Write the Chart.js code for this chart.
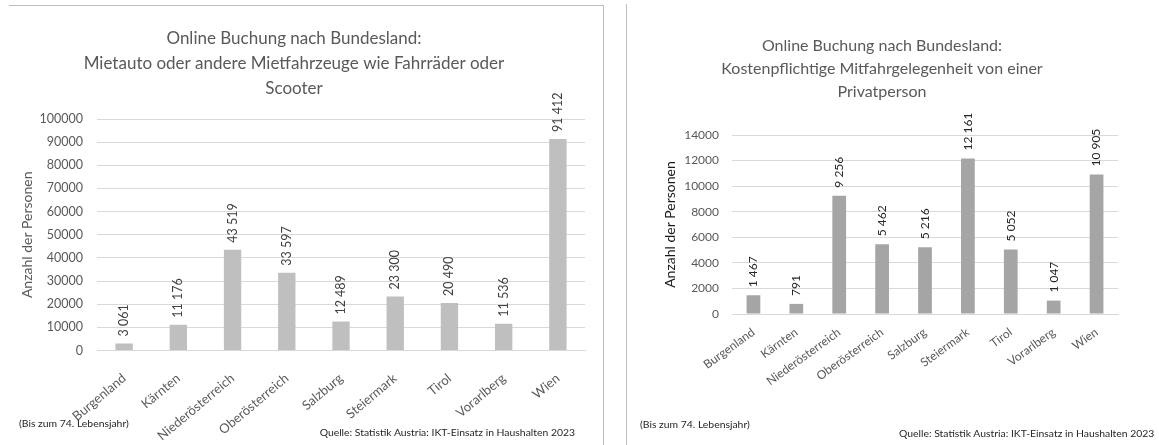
<!DOCTYPE html>
<html lang="de">
<head>
<meta charset="utf-8">
<title>Online Buchung nach Bundesland</title>
<script src="https://cdn.jsdelivr.net/npm/chart.js@4.4.1/dist/chart.umd.min.js"></script>
<style>
  html, body { margin: 0; padding: 0; background: #fff; }
  body { position: relative; width: 1159px; height: 445px; overflow: hidden; font-family: Lato, "Noto Sans", sans-serif; }
  canvas { position: absolute; top: 0; }
  .rule { position: absolute; background: #bdbdbd; }
  .note { position: absolute; font-size: 10.4px; line-height: 12px; color: #262626; white-space: nowrap; }
</style>
</head>
<body>
<div class="rule" style="left:9px; top:5px; width:594px; height:1px;"></div>
<div class="rule" style="left:603px; top:5px; width:1px; height:440px;"></div>
<div class="rule" style="left:626px; top:4px; width:1px; height:441px;"></div>

<canvas id="chartMiet" width="590" height="445" style="left:0px;"></canvas>
<canvas id="chartMitfahrt" width="532" height="445" style="left:626px;"></canvas>

<div class="note" style="left:19px; top:417px;">(Bis zum 74. Lebensjahr)</div>
<div class="note" style="left:300px; top:426px; width:275px; text-align:right;">Quelle: Statistik Austria: IKT-Einsatz in Haushalten 2023</div>
<div class="note" style="left:640px; top:418px;">(Bis zum 74. Lebensjahr)</div>
<div class="note" style="left:899px; top:427px;">Quelle: Statistik Austria: IKT-Einsatz in Haushalten 2023</div>

<script>
// Bundesländer in Reihenfolge der Achse
const bundeslaender = ['Burgenland', 'Kärnten', 'Niederösterreich', 'Oberösterreich', 'Salzburg', 'Steiermark', 'Tirol', 'Vorarlberg', 'Wien'];

// Personen mit Online-Buchung: Mietauto oder andere Mietfahrzeuge
const mietfahrzeuge = [3061, 11176, 43519, 33597, 12489, 23300, 20490, 11536, 91412];

// Personen mit Online-Buchung: kostenpflichtige Mitfahrgelegenheit
const mitfahrgelegenheit = [1467, 791, 9256, 5462, 5216, 12161, 5052, 1047, 10905];

// Achsenbereiche
const mietAchse = { max: 100000, step: 10000 };
const mitfahrtAchse = { max: 14000, step: 2000 };

const titelMiet = ['Online Buchung nach Bundesland:', 'Mietauto oder andere Mietfahrzeuge wie Fahrräder oder', 'Scooter'];
const titelMitfahrt = ['Online Buchung nach Bundesland:', 'Kostenpflichtige Mitfahrgelegenheit von einer', 'Privatperson'];
const achsenTitel = 'Anzahl der Personen';

const FONT = 'Lato, "Noto Sans", sans-serif';
Chart.defaults.font.family = FONT;

// Zahlen mit Leerzeichen als Tausendertrennzeichen
function tausender(v) {
  return String(v).replace(/\B(?=(\d{3})+(?!\d))/g, ' ');
}

// Senkrechte Wertbeschriftungen über den Säulen
const wertBeschriftung = {
  id: 'wertBeschriftung',
  afterDatasetsDraw(chart, args, opts) {
    const ctx = chart.ctx;
    const meta = chart.getDatasetMeta(0);
    const werte = chart.data.datasets[0].data;
    ctx.save();
    ctx.font = opts.size + 'px ' + FONT;
    ctx.fillStyle = opts.color;
    ctx.textAlign = 'left';
    ctx.textBaseline = 'middle';
    meta.data.forEach((bar, i) => {
      ctx.save();
      ctx.translate(bar.x, bar.y - opts.gap);
      ctx.rotate(-Math.PI / 2);
      ctx.fillText(tausender(werte[i]), 0, 0);
      ctx.restore();
    });
    ctx.restore();
  }
};

function balken(canvasId, werte, achse, cfg) {
  return new Chart(document.getElementById(canvasId), {
    type: 'bar',
    data: {
      labels: bundeslaender,
      datasets: [{
        data: werte,
        backgroundColor: cfg.barColor,
        borderWidth: 0,
        categoryPercentage: 1,
        barPercentage: 0.32
      }]
    },
    plugins: [wertBeschriftung],
    options: {
      responsive: false,
      animation: false,
      devicePixelRatio: 1,
      layout: { padding: { left: cfg.padLeft, right: cfg.padRight, top: 0, bottom: 0 } },
      plugins: {
        legend: { display: false },
        tooltip: { enabled: false },
        title: {
          display: true,
          text: cfg.title,
          color: '#595959',
          font: { size: cfg.titleSize, weight: 'normal', lineHeight: cfg.titleLine + 'px' },
          padding: { top: cfg.titleTop, bottom: cfg.titleBottom }
        },
        wertBeschriftung: { size: cfg.labelSize, color: cfg.labelColor, gap: cfg.labelGap }
      },
      scales: {
        x: {
          grid: { display: false },
          border: { display: true, color: '#d9d9d9', width: 1 },
          ticks: {
            color: '#595959',
            font: { size: cfg.xSize },
            minRotation: cfg.xRot,
            maxRotation: cfg.xRot,
            autoSkip: false,
            padding: cfg.xPad
          },
          afterFit(scale) { scale.height = cfg.xHeight; }
        },
        y: {
          min: 0,
          max: achse.max,
          grid: { color: '#d9d9d9', lineWidth: 1, drawTicks: false },
          border: { display: false },
          ticks: {
            stepSize: achse.step,
            color: '#595959',
            font: { size: cfg.ySize },
            padding: cfg.yPad,
            callback: (v) => String(v)
          },
          title: {
            display: true,
            text: achsenTitel,
            color: cfg.axisTitleColor,
            font: { size: 14, weight: 'normal', lineHeight: 1.2 },
            padding: { top: cfg.axisTitleTop, bottom: 0 }
          },
          afterFit(scale) { scale.width = cfg.yWidth; }
        }
      }
    }
  });
}

balken('chartMiet', mietfahrzeuge, mietAchse, {
  barColor: '#bfbfbf',
  padLeft: 3, padRight: 5,
  title: titelMiet, titleSize: 17, titleLine: 25, titleTop: 26.5, titleBottom: 17.5,
  labelSize: 12.5, labelColor: '#404040', labelGap: 7,
  xSize: 13, xPad: 12, xRot: 40, xHeight: 94.5,
  ySize: 12.5, yPad: 14, yWidth: 94,
  axisTitleColor: '#595959', axisTitleTop: 16
});

balken('chartMitfahrt', mitfahrgelegenheit, mitfahrtAchse, {
  barColor: '#a5a5a5',
  padLeft: 20, padRight: 40,
  title: titelMitfahrt, titleSize: 16, titleLine: 23, titleTop: 34.5, titleBottom: 31.5,
  labelSize: 12, labelColor: '#262626', labelGap: 8,
  xSize: 12, xPad: 3, xRot: 36, xHeight: 131,
  ySize: 12, yPad: 13, yWidth: 86,
  axisTitleColor: '#1a1a1a', axisTitleTop: 15.6
});
</script>
</body>
</html>
